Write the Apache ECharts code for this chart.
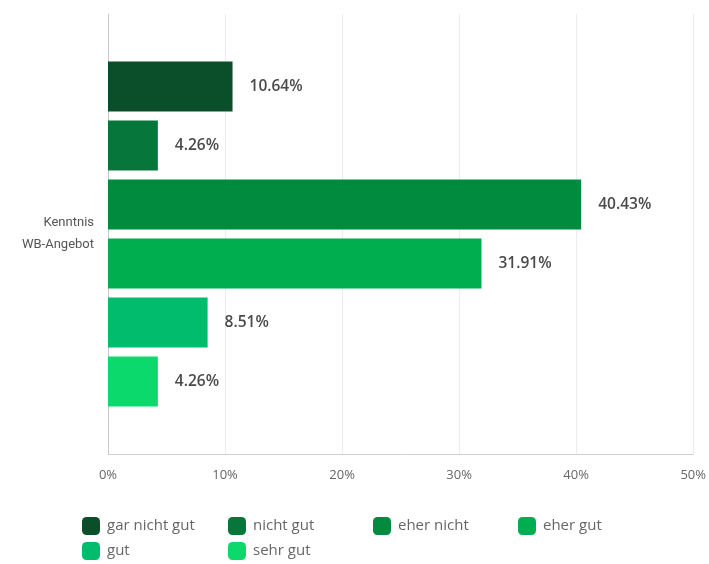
<!DOCTYPE html>
<html><head><meta charset="utf-8">
<script src="https://cdn.jsdelivr.net/npm/echarts@6/dist/echarts.min.js"></script>
<style>html,body{margin:0;padding:0;background:#fff}#c{width:709px;height:564px}</style>
</head><body><div id="c"></div>
<script>
const categories = ['Kenntnis\nWB-Angebot'];
const seriesNames = ['gar nicht gut','nicht gut','eher nicht','eher gut','gut','sehr gut'];
const seriesValues = [10.64, 4.26, 40.43, 31.91, 8.51, 4.26];
const colors = ['#0b4f2a','#07763a','#008b3f','#00ad4f','#00bc6c','#0cd96b'];
const xTicks = [0,10,20,30,40,50];

const chart = echarts.init(document.getElementById('c'));
const legendPos = [[82,517],[228,517],[373,517],[518,517],[82,542],[228,542]];
const legends = seriesNames.map((n,i)=>({
  data:[n], left:legendPos[i][0], top:legendPos[i][1], itemWidth:18, itemHeight:18,
  icon:'roundRect', itemGap:0, padding:0,
  textStyle:{color:'#666', fontSize:15, fontFamily:'"Open Sans", sans-serif', padding:[0,0,0,2]}
}));
chart.setOption({
  animation:false,
  color: colors,
  grid:{left:108,right:12,top:14,bottom:110},
  legend: legends,
  xAxis:{type:'value', min:xTicks[0], max:xTicks[xTicks.length-1], interval:10,
    axisLine:{show:true, lineStyle:{color:'#d0d0d0'}},
    axisTick:{show:false},
    splitLine:{lineStyle:{color:'#ececec'}},
    axisLabel:{formatter:'{value}%', color:'#666', fontSize:13, margin:15, fontFamily:'"Open Sans", sans-serif'}
  },
  yAxis:{type:'category', data:categories, inverse:true,
    axisLine:{show:true, lineStyle:{color:'#c8c8c8'}},
    axisTick:{show:false},
    axisLabel:{color:'#555', fontSize:13, lineHeight:22, margin:14, align:'right', fontFamily:'Roboto, sans-serif'}
  },
  series: seriesNames.map((n,i)=>({
    name:n, type:'bar', data:[seriesValues[i]], barWidth:50, barGap:'18%',
    itemStyle:{color:colors[i]},
    label:{show:true, position:'right', distance:17, formatter:p=>p.value.toFixed(2)+'%',
      color:'#4a4a4a', fontWeight:600, fontSize:15.5, fontFamily:'"Open Sans", sans-serif'}
  }))
});
</script></body></html>
